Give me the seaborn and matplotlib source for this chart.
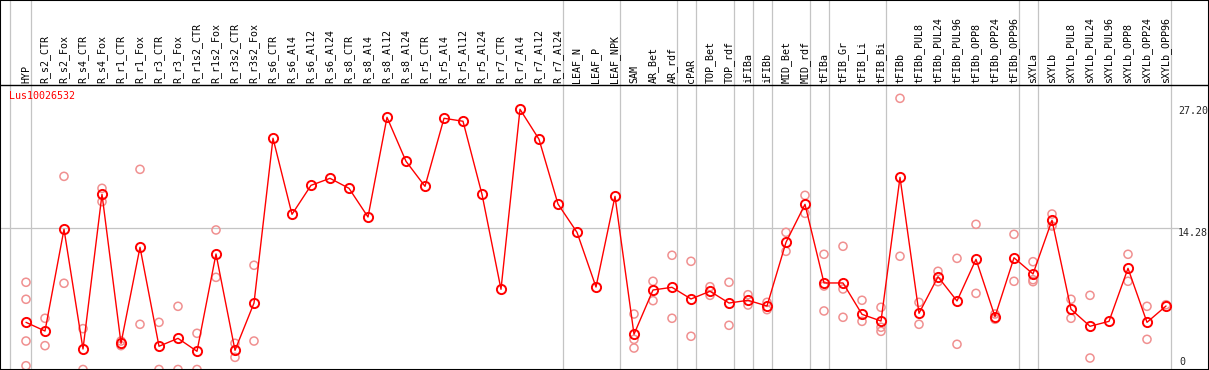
import matplotlib
matplotlib.use('Agg')
import matplotlib.pyplot as plt
import matplotlib.transforms as mtransforms
import seaborn as sns
import pandas as pd

gene = 'Lus10026532'

categories = [
    'HYP', 'R_s2_CTR', 'R_s2_Fox', 'R_s4_CTR', 'R_s4_Fox', 'R_r1_CTR', 'R_r1_Fox',
    'R_r3_CTR', 'R_r3_Fox', 'R_r1s2_CTR', 'R_r1s2_Fox', 'R_r3s2_CTR', 'R_r3s2_Fox',
    'R_s6_CTR', 'R_s6_Al4', 'R_s6_Al12', 'R_s6_Al24', 'R_s8_CTR', 'R_s8_Al4',
    'R_s8_Al12', 'R_s8_Al24', 'R_r5_CTR', 'R_r5_Al4', 'R_r5_Al12', 'R_r5_Al24',
    'R_r7_CTR', 'R_r7_Al4', 'R_r7_Al12', 'R_r7_Al24', 'LEAF_N', 'LEAF_P', 'LEAF_NPK',
    'SAM', 'AR_Bet', 'AR_rdf', 'cPAR', 'TOP_Bet', 'TOP_rdf', 'iFIBa', 'iFIBb',
    'MID_Bet', 'MID_rdf', 'tFIBa', 'tFIB_Gr', 'tFIB_Li', 'tFIB_Bi', 'tFIBb',
    'tFIBb_PUL8', 'tFIBb_PUL24', 'tFIBb_PUL96', 'tFIBb_OPP8', 'tFIBb_OPP24',
    'tFIBb_OPP96', 'sXYLa', 'sXYLb', 'sXYLb_PUL8', 'sXYLb_PUL24', 'sXYLb_PUL96',
    'sXYLb_OPP8', 'sXYLb_OPP24', 'sXYLb_OPP96',
]

means = [
    4.77, 3.89, 14.18, 2.07, 17.71, 2.65, 12.36, 2.35, 3.15, 1.84, 11.68, 1.94, 6.72,
    23.38, 15.69, 18.62, 19.33, 18.32, 15.42, 25.50, 21.05, 18.52, 25.40, 25.10, 17.71,
    8.11, 26.31, 23.28, 16.73, 13.87, 8.34, 17.51,
    3.56, 8.04, 8.31, 7.13, 7.91, 6.72, 7.00, 6.42, 12.86, 16.70, 8.75, 8.75, 5.58,
    4.90, 19.43, 5.68, 9.38, 6.93, 11.14, 5.34, 11.30, 9.66, 15.09, 6.09, 4.37, 4.87,
    10.23, 4.77, 6.42,
]

# single replicates (light circles)
rep_categories = [
    'HYP', 'HYP', 'HYP', 'HYP', 'R_s2_CTR', 'R_s2_CTR', 'R_s2_Fox', 'R_s2_Fox',
    'R_s4_CTR', 'R_s4_CTR', 'R_s4_Fox', 'R_s4_Fox', 'R_r1_CTR', 'R_r1_CTR',
    'R_r1_Fox', 'R_r1_Fox', 'R_r3_CTR', 'R_r3_CTR', 'R_r3_Fox', 'R_r3_Fox',
    'R_r1s2_CTR', 'R_r1s2_CTR', 'R_r1s2_Fox', 'R_r1s2_Fox', 'R_r3s2_CTR', 'R_r3s2_CTR',
    'R_r3s2_Fox', 'R_r3s2_Fox',
    'SAM', 'SAM', 'SAM', 'AR_Bet', 'AR_Bet', 'AR_rdf', 'AR_rdf', 'cPAR', 'cPAR',
    'TOP_Bet', 'TOP_Bet', 'TOP_rdf', 'TOP_rdf', 'iFIBa', 'iFIBa', 'iFIBb', 'iFIBb',
    'MID_Bet', 'MID_Bet', 'MID_rdf', 'MID_rdf', 'tFIBa', 'tFIBa', 'tFIBa',
    'tFIB_Gr', 'tFIB_Gr', 'tFIB_Gr', 'tFIB_Li', 'tFIB_Li', 'tFIB_Bi', 'tFIB_Bi', 'tFIB_Bi',
    'tFIBb', 'tFIBb', 'tFIBb_PUL8', 'tFIBb_PUL8', 'tFIBb_PUL24', 'tFIBb_PUL24',
    'tFIBb_PUL96', 'tFIBb_PUL96', 'tFIBb_OPP8', 'tFIBb_OPP8', 'tFIBb_OPP24', 'tFIBb_OPP24',
    'tFIBb_OPP96', 'tFIBb_OPP96', 'sXYLa', 'sXYLa', 'sXYLa', 'sXYLb', 'sXYLb',
    'sXYLb_PUL8', 'sXYLb_PUL8', 'sXYLb_PUL24', 'sXYLb_PUL24', 'sXYLb_OPP8', 'sXYLb_OPP8',
    'sXYLb_OPP24', 'sXYLb_OPP24', 'sXYLb_OPP96',
]
rep_values = [
    8.82, 7.10, 2.88, 0.38, 5.18, 2.41, 19.53, 8.72,
    4.13, 0.0, 18.32, 16.97, 2.88, 2.41,
    20.24, 4.57, 4.77, 0.0, 6.39, 0.0,
    3.66, 0.0, 14.11, 9.32, 2.65, 1.23,
    10.54, 2.88,
    5.61, 3.05, 2.17, 8.92, 6.96, 11.55, 5.18, 10.94, 3.36,
    8.37, 7.50, 8.82, 4.47, 7.56, 6.52, 6.79, 6.05,
    13.87, 11.95, 17.61, 15.79, 11.65, 8.44, 5.92,
    12.46, 8.14, 5.28, 7.00, 4.87, 6.29, 4.27, 3.86,
    27.42, 11.45, 6.79, 4.57, 9.93, 8.88,
    11.24, 2.55, 14.68, 7.70, 5.61, 5.08,
    13.67, 8.92, 10.90, 9.08, 8.88, 15.72, 14.51,
    7.10, 5.18, 7.50, 1.16, 11.65, 8.92,
    6.39, 3.05, 6.55,
]

# grey separators drawn right after these columns
group_ends = ['HYP', 'R_r7_Al24', 'LEAF_NPK', 'AR_rdf', 'cPAR', 'TOP_rdf', 'iFIBa',
              'iFIBb', 'MID_rdf', 'tFIBa', 'tFIB_Bi', 'tFIBb_OPP96', 'sXYLa', 'sXYLb_OPP96']

ytick_values = [0, 14.28, 27.20]
ytick_labels = ['0', '14.28', '27.20']

sns.set_style('white')
plt.rcParams['font.family'] = ['DejaVu Sans Mono', 'DejaVu Sans']

W, H = 1209, 370
fig = plt.figure(figsize=(W / 100, H / 100), dpi=100)
ax = fig.add_axes([0, 0, 1, 1])

pos = {c: i for i, c in enumerate(categories)}
df_mean = pd.DataFrame({'pos': range(len(categories)), 'value': means})
df_rep = pd.DataFrame({'pos': [pos[c] for c in rep_categories], 'value': rep_values})

# pixel layout of the original: first column at 26px, 19px pitch, zero at 369.5px
x0, pitch = 26, 19
y0, scale = 369.5, 9.89
ax.set_xlim(-x0 / pitch, (W - x0) / pitch)
ax.set_ylim((y0 - H) / scale, y0 / scale)

grid_c = '#c4c4c4'
ax.axvline(-0.82, color=grid_c, lw=0.9, zorder=0)
for c in group_ends:
    ax.axvline(pos[c] + 0.25, color=grid_c, lw=0.9, zorder=0)
ax.axhline(ytick_values[1], xmax=1178 / W, color=grid_c, lw=0.9, zorder=0)

# header separator
ax.axhline((y0 - 85) / scale, color='black', lw=1, zorder=1)

sns.scatterplot(data=df_rep, x='pos', y='value', ax=ax, marker='o', s=34,
                facecolor='none', edgecolor='#f09090', linewidth=1.1,
                zorder=2, legend=False)
sns.lineplot(data=df_mean, x='pos', y='value', ax=ax, color='red', lw=1,
             marker='o', markersize=6.6, markerfacecolor='none',
             markeredgecolor='red', markeredgewidth=1.4, zorder=3)

for i, c in enumerate(categories):
    ax.text(i, (y0 - 83) / scale, c, rotation=90, ha='center', va='bottom',
            fontsize=7.2, color='black')

ax.text(9 / W, 1 - 91 / H, gene, transform=ax.transAxes, color='red',
        ha='left', va='top', fontsize=7.2)

ytrans = ax.get_yaxis_transform()
top_trans = mtransforms.offset_copy(ytrans, fig=fig, y=-6, units='dots')
for v, lab in zip(ytick_values, ytick_labels):
    if v == 0:
        ax.text(1179 / W, v + 0.3, lab, transform=ytrans, ha='left', va='bottom', fontsize=7.2)
    elif v == max(ytick_values):
        ax.text(1178 / W, v, lab, transform=top_trans, ha='left', va='top', fontsize=7.2)
    else:
        ax.text(1178 / W, v, lab, transform=ytrans, ha='left', va='top', fontsize=7.2)

ax.set_xticks([])
ax.set_yticks([])
ax.set_xlabel('')
ax.set_ylabel('')
for s in ax.spines.values():
    s.set_color('black')
    s.set_linewidth(1.5)

fig.savefig('out.png', dpi=100)
